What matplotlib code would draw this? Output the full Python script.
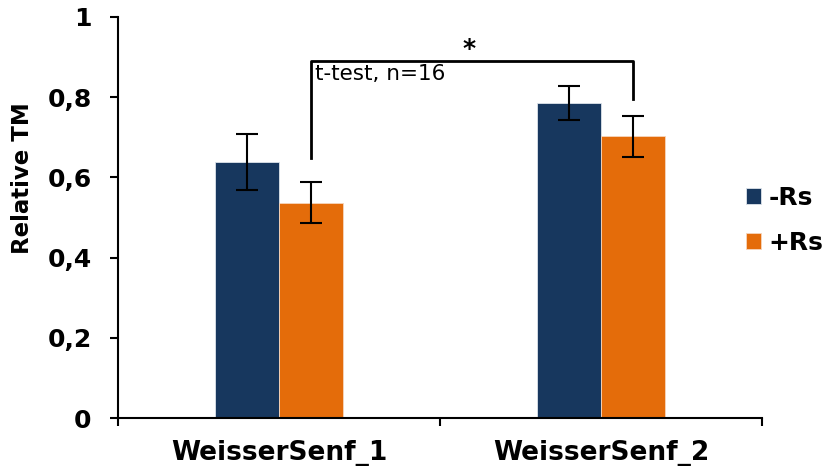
import numpy as np
import matplotlib.pyplot as plt

# relative TM per variety, without / with Rs
groups = ['WeisserSenf_1', 'WeisserSenf_2']
minus_rs = [0.638, 0.786]
minus_err = [0.069, 0.043]
plus_rs = [0.537, 0.702]
plus_err = [0.051, 0.052]
yticks = [0, 0.2, 0.4, 0.6, 0.8, 1]
ytick_labels = ['0', '0,2', '0,4', '0,6', '0,8', '1']

plt.rcParams['font.family'] = ['DejaVu Sans']

fig = plt.figure(figsize=(8.29, 4.69), dpi=100)
ax = fig.add_axes([0.1423, 0.1087, 0.7769, 0.8551])

x = np.arange(len(groups))
w = 0.2
ekw = dict(elinewidth=1.5, capthick=1.5)
ax.bar(x - w / 2, minus_rs, w, color='#17375E', edgecolor='#dde3ea', linewidth=0.6,
       yerr=minus_err, capsize=8, error_kw=ekw, label='-Rs')
ax.bar(x + w / 2, plus_rs, w, color='#E46C0A', edgecolor='#f6d6bd', linewidth=0.6,
       yerr=plus_err, capsize=8, error_kw=ekw, label='+Rs')

ax.set_xlim(-0.5, 1.5)
ax.set_ylim(0, 1)
ax.set_yticks(yticks)
ax.set_yticklabels(ytick_labels, fontsize=18, fontweight='bold')
ax.set_xticks([-0.5, 0.5, 1.5], minor=False)
ax.set_xticklabels([])
ax.set_xticks(x, minor=True)
ax.set_xticklabels(groups, minor=True, fontsize=19, fontweight='bold')
ax.tick_params(axis='x', which='major', length=6, width=1.5, direction='out')
ax.tick_params(axis='x', which='minor', length=0, pad=16)
ax.tick_params(axis='y', length=6, width=1.5, direction='out', pad=13)

fig.text(23 / 829, 1 - 178 / 469, 'Relative TM', rotation=90, ha='center',
         va='center', fontsize=16.5, fontweight='bold')

for s in ['top', 'right']:
    ax.spines[s].set_visible(False)
for s in ['left', 'bottom']:
    ax.spines[s].set_linewidth(1.5)

# significance bracket between the +Rs bars
xl, xr = x[0] + w / 2, x[1] + w / 2
ax.plot([xl, xl, xr, xr], [0.648, 0.889, 0.889, 0.796], color='black', lw=2,
        clip_on=False)
ax.text((xl + xr) / 2 - 0.01, 0.92, '*', ha='center', va='center', fontsize=18,
        fontweight='bold')
ax.text(xl + 0.012, 0.882, 't-test, n=16', ha='left', va='top', fontsize=15.5)

fig.legend(loc='center left', bbox_to_anchor=(746 / 829, 1 - 220.5 / 469),
           frameon=False, prop=dict(size=18, weight='bold'),
           handlelength=0.6, handleheight=0.6, handletextpad=0.3,
           labelspacing=0.85, borderpad=0, borderaxespad=0)

fig.savefig('out.png', dpi=100)
